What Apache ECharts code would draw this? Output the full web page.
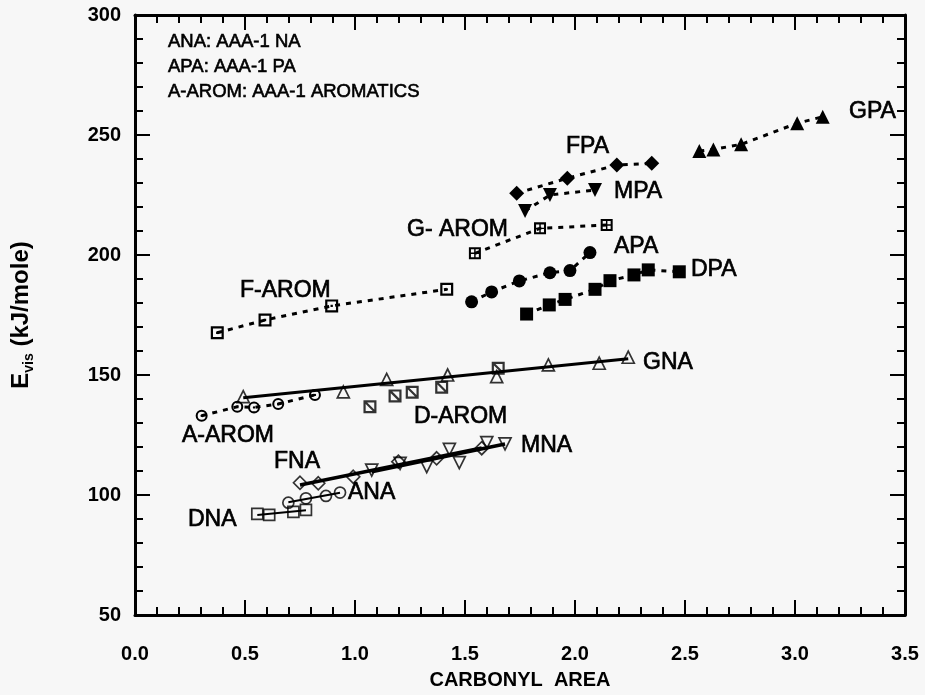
<!DOCTYPE html>
<html>
<head>
<meta charset="utf-8">
<script src="https://cdn.jsdelivr.net/npm/echarts@6/dist/echarts.min.js"></script>
<style>
  html, body { margin: 0; padding: 0; background: #f7f7f7; }
  #chart { width: 925px; height: 695px; }
</style>
</head>
<body>
<div id="chart"></div>
<script>
// Activation energy of viscous flow against carbonyl area, [carbonyl area, E_vis]
const GPA    = [[2.565, 243.3], [2.629, 244.0], [2.755, 246.1], [3.010, 254.9], [3.126, 257.6]];
const FPA    = [[1.735, 225.7], [1.965, 232.0], [2.190, 237.5], [2.349, 238.2]];
const MPA    = [[1.773, 218.3], [1.886, 225.0], [2.091, 227.1]];
const APA    = [[1.530, 180.5], [1.621, 184.6], [1.747, 189.2], [1.886, 192.6], [1.977, 193.5], [2.068, 201.0]];
const DPA    = [[1.780, 175.4], [1.883, 179.2], [1.955, 181.5], [2.091, 185.7], [2.159, 189.3], [2.268, 191.7], [2.333, 193.8], [2.474, 193.0]];
const G_AROM = [[1.545, 200.7], [1.841, 211.1], [2.144, 212.5]];
const F_AROM = [[0.374, 167.6], [0.591, 172.9], [0.894, 178.8], [1.417, 185.7]];
const A_AROM = [[0.303, 133.0], [0.465, 136.8], [0.541, 136.5], [0.651, 137.9], [0.818, 141.7]];
const D_AROM = [[1.068, 136.8], [1.182, 141.3], [1.260, 142.8], [1.394, 144.9], [1.651, 152.8]];
const GNA    = [[0.492, 141.0], [0.947, 143.0], [1.144, 148.2], [1.421, 150.0], [1.644, 149.3], [1.879, 154.2], [2.110, 154.9], [2.242, 157.4]];
const FNA    = [[0.750, 105.1], [0.833, 104.9], [0.992, 107.6], [1.197, 113.9], [1.371, 115.3], [1.576, 119.5]];
const MNA    = [[1.076, 110.4], [1.205, 113.2], [1.326, 111.8], [1.429, 119.0], [1.474, 113.5], [1.599, 121.8], [1.682, 121.3]];
const ANA    = [[0.697, 96.8], [0.777, 98.6], [0.868, 99.6], [0.932, 101.0]];
const DNA    = [[0.556, 92.1], [0.610, 91.7], [0.720, 93.0], [0.777, 93.8]];

const notes = ['ANA: AAA-1 NA', 'APA: AAA-1 PA', 'A-AROM: AAA-1 AROMATICS'];
const X_MIN = 0, X_MAX = 3.5, X_STEP = 0.5;
const Y_MIN = 50, Y_MAX = 300, Y_STEP = 50;

const FONT = '"Liberation Sans", Arial, Helvetica, sans-serif';
const INK = '#000';

// Plot frame in pixels
const FRAME = { left: 135, right: 20, top: 15, bottom: 80 };
const MAJOR_LEN = 15, MINOR_LEN = 8;

// Marker outlines built from filled sub-paths; inner holes wind the other way.
const SQ_DOT   = 'path://M0,0H10V10H0Z M1.7,1.7V8.3H8.3V1.7Z M4.1,4.1H5.9V5.9H4.1Z';
const SQ_PLUS  = 'path://M0,0H10V10H0Z M1.7,1.7V4.4H4.4V1.7Z M5.6,1.7V4.4H8.3V1.7Z M1.7,5.6V8.3H4.4V5.6Z M5.6,5.6V8.3H8.3V5.6Z';
const SQ_SLASH = 'path://M0,0H10V10H0Z M2.9,1.7L8.3,7.1L8.3,1.7Z M1.7,2.9L1.7,8.3L7.1,8.3Z';
const CIR_DOT  = 'path://M5,0A5,5,0,1,1,5,10A5,5,0,1,1,5,0Z M5,1.7A3.3,3.3,0,1,0,5,8.3A3.3,3.3,0,1,0,5,1.7Z M5,4A1,1,0,1,1,5,6A1,1,0,1,1,5,4Z';

// Least-squares straight line across the x range of a group
function fitLine(pts) {
  const n = pts.length;
  let sx = 0, sy = 0;
  pts.forEach(p => { sx += p[0]; sy += p[1]; });
  const mx = sx / n, my = sy / n;
  let sxy = 0, sxx = 0;
  pts.forEach(p => { sxy += (p[0] - mx) * (p[1] - my); sxx += (p[0] - mx) * (p[0] - mx); });
  const b = sxy / sxx, a = my - b * mx;
  const xs = pts.map(p => p[0]);
  const x0 = Math.min(...xs), x1 = Math.max(...xs);
  return [[x0, a + b * x0], [x1, a + b * x1]];
}

const dotted = { color: INK, width: 3, type: [5, 6], cap: 'butt' };

function dottedGroup(name, data, symbol, size, rotate) {
  return {
    name, type: 'line', data, symbol, symbolSize: size, symbolRotate: rotate || 0,
    showSymbol: true, lineStyle: dotted, itemStyle: { color: INK, borderWidth: 0 },
    z: 3, silent: true, animation: false
  };
}
function markerOnly(name, data, symbol, size, open, rotate) {
  return {
    name, type: 'scatter', data, symbol, symbolSize: size, symbolRotate: rotate || 0,
    itemStyle: open ? { color: 'rgba(0,0,0,0)', borderColor: INK, borderWidth: 1.7 } : { color: INK },
    z: 4, silent: true, animation: false
  };
}
function fittedLine(name, data, width) {
  return {
    name: name + ' fit', type: 'line', data: fitLine(data), symbol: 'none',
    lineStyle: { color: INK, width }, z: 2, silent: true, animation: false
  };
}

const series = [
  dottedGroup('GPA', GPA, 'triangle', 14),
  dottedGroup('FPA', FPA, 'diamond', 15),
  dottedGroup('MPA', MPA, 'triangle', 14, 180),
  dottedGroup('APA', APA, 'circle', 13),
  dottedGroup('DPA', DPA, 'rect', 13),
  dottedGroup('G-AROM', G_AROM, SQ_PLUS, 12),
  dottedGroup('F-AROM', F_AROM, SQ_DOT, 13),
  dottedGroup('A-AROM', A_AROM, CIR_DOT, 12),
  markerOnly('D-AROM', D_AROM, SQ_SLASH, 13, false),
  fittedLine('GNA', GNA, 3),
  markerOnly('GNA', GNA, 'triangle', 12, true),
  fittedLine('FNA', FNA, 3.5),
  markerOnly('FNA', FNA, 'diamond', 13, true),
  fittedLine('MNA', MNA, 3.5),
  markerOnly('MNA', MNA, 'triangle', 12, true, 180),
  fittedLine('ANA', ANA, 2),
  markerOnly('ANA', ANA, 'circle', 11, true),
  fittedLine('DNA', DNA, 2),
  markerOnly('DNA', DNA, 'rect', 11, true)
];
series.forEach(s => { s.xAxisIndex = 0; s.yAxisIndex = 0; });

// Group names written beside their points (pixel anchor: left edge, middle)
const groupLabels = [
  ['GPA', 849, 112], ['FPA', 566, 147], ['MPA', 614, 192], ['G- AROM', 407, 230],
  ['APA', 614, 247], ['DPA', 691, 270], ['F-AROM', 240, 291], ['GNA', 643, 363],
  ['D-AROM', 414, 417], ['A-AROM', 182, 436], ['MNA', 521, 446], ['FNA', 274, 462],
  ['ANA', 348, 493], ['DNA', 188, 520]
];

const textEls = groupLabels.map(([t, x, y]) => ({
  type: 'text', x, y, silent: true, z: 10,
  style: { text: t, fontFamily: FONT, fontSize: 23, fill: INK, align: 'left', verticalAlign: 'middle',
           stroke: INK, lineWidth: 0.7 }
}));
notes.forEach((t, i) => textEls.push({
  type: 'text', x: 168, y: 42 + i * 25, silent: true, z: 10,
  style: { text: t, fontFamily: FONT, fontSize: 18.5, fill: INK, align: 'left', verticalAlign: 'middle',
           stroke: INK, lineWidth: 0.6 }
}));

// Frame axes carry the line, labels and the short (minor) ticks pointing inward
function frameAxis(pos, isX, labels) {
  const ax = {
    type: 'value', position: pos, gridIndex: 0,
    min: isX ? X_MIN : Y_MIN, max: isX ? X_MAX : Y_MAX, interval: isX ? X_STEP : Y_STEP,
    axisLine: { show: true, onZero: false, lineStyle: { color: INK, width: 3 } },
    axisTick: { show: true, inside: false, length: -MAJOR_LEN, lineStyle: { color: INK, width: 2 } },
    minorTick: { show: true, splitNumber: 5, length: -MINOR_LEN, lineStyle: { color: INK, width: 2 } },
    splitLine: { show: false },
    axisLabel: { show: labels }
  };
  if (labels) {
    ax.axisLabel = {
      show: true, color: INK, fontFamily: FONT, fontWeight: 'bold', fontSize: 20,
      margin: isX ? 29 : 14,
      formatter: isX ? (v => v.toFixed(1)) : (v => String(v))
    };
  }
  return ax;
}

// Thin strips along each side of the frame; their split lines are the long (major) ticks
const strips = [
  { left: FRAME.left, right: FRAME.right, bottom: FRAME.bottom, height: MAJOR_LEN, isX: true },
  { left: FRAME.left, right: FRAME.right, top: FRAME.top, height: MAJOR_LEN, isX: true },
  { left: FRAME.left, width: MAJOR_LEN, top: FRAME.top, bottom: FRAME.bottom, isX: false },
  { right: FRAME.right, width: MAJOR_LEN, top: FRAME.top, bottom: FRAME.bottom, isX: false }
];
function stripAxes(isX, gi) {
  const lines = {
    type: 'value', gridIndex: gi,
    min: isX ? X_MIN : Y_MIN, max: isX ? X_MAX : Y_MAX, interval: isX ? X_STEP : Y_STEP,
    axisLine: { show: false }, axisTick: { show: false }, axisLabel: { show: false },
    splitLine: { show: true, lineStyle: { color: INK, width: 2 } }
  };
  const dummy = { type: 'value', gridIndex: gi, min: 0, max: 1, show: false, splitLine: { show: false } };
  return isX ? { x: lines, y: dummy } : { x: dummy, y: lines };
}

const xMain = frameAxis('bottom', true, true);
xMain.name = 'CARBONYL  AREA';
xMain.nameLocation = 'middle';
xMain.nameGap = 55;
xMain.nameTextStyle = { color: INK, fontFamily: FONT, fontWeight: 'bold', fontSize: 20 };

const yMain = frameAxis('left', false, true);
yMain.name = '{e|E}{s|vis}{t| (kJ/mole)}';
yMain.nameLocation = 'middle';
yMain.nameRotate = 90;
yMain.nameGap = 99;
yMain.nameTextStyle = {
  color: INK,
  rich: {
    e: { fontFamily: FONT, fontWeight: 'bold', fontSize: 24, color: INK, lineHeight: 30, verticalAlign: 'middle' },
    s: { fontFamily: FONT, fontWeight: 'bold', fontSize: 14, color: INK, lineHeight: 30, verticalAlign: 'bottom', padding: [12, 0, 0, 0] },
    t: { fontFamily: FONT, fontWeight: 'bold', fontSize: 24, color: INK, lineHeight: 30, verticalAlign: 'middle' }
  }
};

const grids = [Object.assign({ containLabel: false }, FRAME)];
const xAxes = [xMain, frameAxis('top', true, false)];
const yAxes = [yMain, frameAxis('right', false, false)];
strips.forEach((s, i) => {
  const g = { containLabel: false };
  ['left', 'right', 'top', 'bottom', 'width', 'height'].forEach(k => { if (s[k] !== undefined) g[k] = s[k]; });
  grids.push(g);
  const a = stripAxes(s.isX, i + 1);
  xAxes.push(a.x); yAxes.push(a.y);
});

const chart = echarts.init(document.getElementById('chart'), null, { renderer: 'canvas' });
chart.setOption({
  backgroundColor: '#f7f7f7',
  animation: false,
  grid: grids,
  xAxis: xAxes,
  yAxis: yAxes,
  series,
  graphic: textEls
});
</script>
</body>
</html>
